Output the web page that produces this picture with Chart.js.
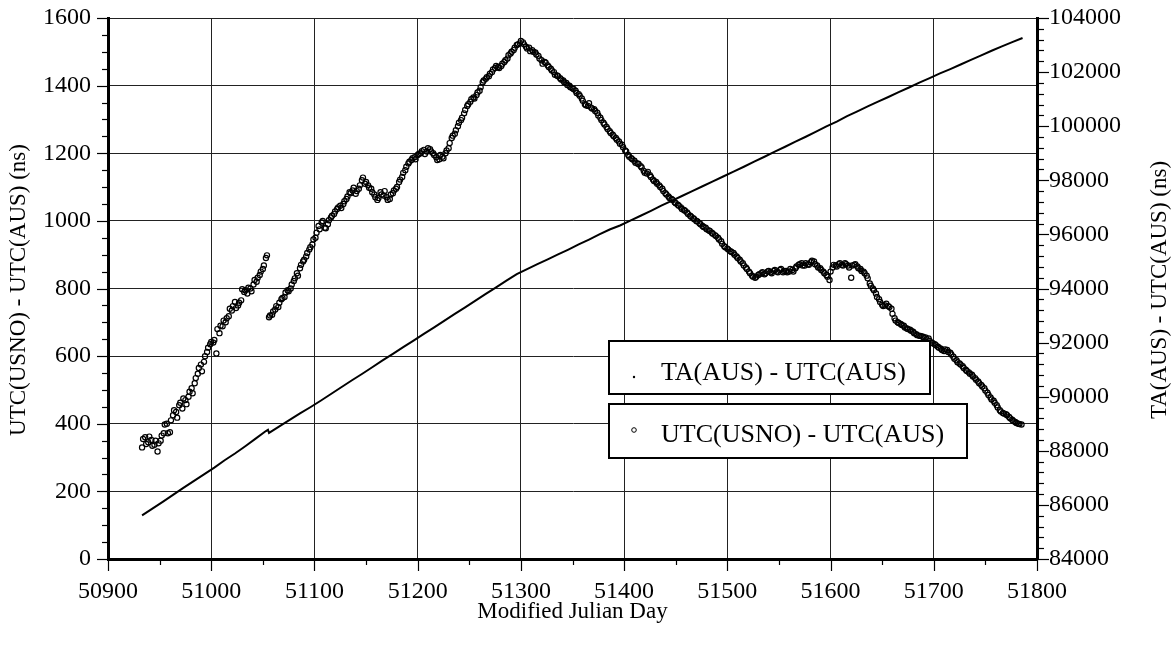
<!DOCTYPE html>
<html>
<head>
<meta charset="utf-8">
<script src="https://cdn.jsdelivr.net/npm/chart.js@4/dist/chart.umd.min.js"></script>
<style>
  html, body { margin: 0; padding: 0; background: #fff; }
  #wrap { width: 1175px; height: 646px; }
</style>
</head>
<body>
<div id="wrap"><canvas id="c" width="1175" height="646"></canvas></div>
<script>
// ---- Axis ticks ----
const xTickValues = [50900, 51000, 51100, 51200, 51300, 51400, 51500, 51600, 51700, 51800];
const leftTickValues = [0, 200, 400, 600, 800, 1000, 1200, 1400, 1600];
const rightTickValues = [84000, 86000, 88000, 90000, 92000, 94000, 96000, 98000, 100000, 102000, 104000];
const xMinorStep = 50, leftMinorStep = 50, rightMinorStep = 400;

// ---- TA(AUS) - UTC(AUS), ns (right axis) ----
const taDays = [
  50933, 50943, 50953, 50963, 50973, 50983, 50993, 51003, 51013, 51023,
  51033, 51043, 51053, 51055, 51056, 51066, 51076, 51086, 51096, 51106,
  51116, 51126, 51136, 51146, 51156, 51166, 51176, 51186, 51196, 51206,
  51216, 51226, 51236, 51246, 51256, 51266, 51276, 51286, 51296, 51306,
  51316, 51326, 51336, 51346, 51356, 51366, 51376, 51386, 51396, 51406,
  51416, 51426, 51436, 51446, 51456, 51466, 51476, 51486, 51496, 51506,
  51516, 51526, 51536, 51546, 51556, 51566, 51576, 51586, 51596, 51606,
  51616, 51626, 51636, 51646, 51656, 51666, 51676, 51686, 51696, 51706,
  51716, 51726, 51736, 51746, 51756, 51766, 51776, 51786
];
const taValues = [
  85610, 85860, 86110, 86370, 86630, 86880, 87130, 87380, 87650, 87900,
  88170, 88450, 88730, 88780, 88660, 88900, 89140, 89380, 89610, 89850,
  90100, 90350, 90600, 90840, 91090, 91340, 91580, 91830, 92070, 92320,
  92560, 92810, 93060, 93300, 93550, 93800, 94040, 94290, 94530, 94720,
  94900, 95080, 95260, 95440, 95630, 95810, 96000, 96180, 96330, 96510,
  96690, 96870, 97060, 97240, 97420, 97600, 97780, 97960, 98140, 98320,
  98500, 98690, 98870, 99060, 99240, 99430, 99610, 99800, 99990, 100170,
  100370, 100550, 100730, 100910, 101080, 101260, 101430, 101610, 101780, 101950,
  102110, 102280, 102450, 102620, 102790, 102950, 103110, 103260
];

// ---- UTC(USNO) - UTC(AUS), ns (left axis) ----
// Readings every third day from MJD 50933 ...
const usnoFirstDayA = 50933;
const usnoDayStep = 3;
const usnoValuesA = [
  330, 360, 345, 352, 338, 318, 350, 372, 400, 375,
  425, 435, 455, 445, 470, 480, 505, 520, 548, 575,
  583, 612, 635, 640, 608, 668, 688, 700, 718, 735,
  760, 750, 765, 790, 785, 800, 812, 820, 840, 858,
  890,
  715, 722, 738, 745, 768, 775, 795, 800, 822, 845,
  860, 880, 895, 915, 930, 950, 985, 995, 980, 990,
  1010, 1020, 1035, 1045, 1050, 1065, 1085, 1090, 1080, 1095,
  1120, 1110, 1105, 1095, 1078, 1062, 1085, 1075, 1070, 1065,
  1082, 1095, 1115, 1130, 1150, 1170, 1180, 1188, 1195, 1200,
  1210, 1205, 1212, 1200, 1188, 1182, 1190, 1200, 1215, 1245,
  1258, 1280, 1298, 1318, 1340, 1352, 1365, 1372, 1385, 1410,
  1420, 1428, 1440, 1452, 1455, 1458, 1470, 1480, 1495, 1505,
  1520, 1525, 1528, 1515, 1512, 1505, 1498, 1488, 1475, 1470,
  1460, 1450, 1440, 1430, 1422, 1415, 1408, 1400, 1392, 1385,
  1375, 1362, 1345, 1340, 1335, 1330, 1320, 1305, 1290, 1278,
  1265, 1255, 1245, 1235, 1225, 1208, 1195, 1185, 1178, 1170,
  1162, 1148, 1140, 1135, 1122, 1115, 1105, 1095, 1082, 1072,
  1065, 1055, 1048, 1040, 1032, 1025, 1015, 1008, 1000, 993,
  985, 980, 972, 965, 958, 950, 940, 925, 918, 910,
  905, 895, 885, 875, 862, 850, 838, 832, 840, 845,
  842, 850, 848, 852, 850, 855, 848, 852, 850, 855,
  860, 870, 875, 868, 872, 878, 880, 868, 860, 850,
  840, 825, 862, 868, 872, 870, 875, 868, 832, 870,
  865, 858, 850, 838, 815, 800, 785, 768, 752, 750,
  748, 740, 712, 700, 695, 690, 682, 678, 672, 665,
  660, 658, 655, 652, 640, 635, 628, 622, 615, 618,
  610, 598, 588, 578, 570, 560, 552, 545, 535, 525,
  515, 505, 492, 478, 468, 455, 440, 432, 428, 420,
  412, 405, 400, 398
];
// ... and every third day from MJD 50934
const usnoFirstDayB = 50934;
const usnoValuesB = [
  355, 340, 362, 335, 350, 342, 365, 398, 372, 410,
  440, 418, 462, 475, 458, 495, 490, 535, 565, 555,
  600, 625, 642, 648, 680, 690, 705, 712, 740, 748,
  742, 758, 798, 795, 802, 792, 825, 832, 850, 868,
  898,
  720, 732, 748, 758, 772, 788, 792, 812, 830, 838,
  870, 885, 905, 922, 945, 965, 975, 1000, 978, 1002,
  1015, 1028, 1040, 1038, 1058, 1072, 1082, 1098, 1088, 1105,
  1128, 1115, 1098, 1085, 1070, 1068, 1078, 1088, 1062, 1078,
  1090, 1100, 1122, 1142, 1160, 1175, 1185, 1182, 1198, 1206,
  1198, 1215, 1205, 1195, 1180, 1195, 1185, 1208, 1230, 1252,
  1268, 1290, 1305, 1328, 1345, 1360, 1362, 1380, 1395, 1415,
  1425, 1435, 1448, 1458, 1452, 1465, 1475, 1490, 1500, 1512,
  1522, 1532, 1522, 1510, 1502, 1500, 1492, 1480, 1465, 1468,
  1455, 1445, 1432, 1428, 1418, 1410, 1402, 1395, 1390, 1378,
  1370, 1355, 1342, 1348, 1332, 1325, 1312, 1298, 1285, 1272,
  1260, 1250, 1240, 1228, 1218, 1205, 1190, 1182, 1172, 1168,
  1158, 1142, 1145, 1130, 1118, 1110, 1100, 1088, 1078, 1068,
  1062, 1052, 1045, 1035, 1030, 1020, 1012, 1005, 998, 990,
  982, 975, 970, 962, 955, 945, 932, 922, 915, 908,
  900, 890, 880, 868, 858, 845, 835, 835, 842, 848,
  845, 852, 845, 855, 848, 858, 852, 848, 858, 850,
  865, 872, 868, 875, 870, 882, 872, 862, 855, 845,
  835, 850, 870, 865, 875, 868, 872, 862, 868, 872,
  860, 852, 845, 830, 808, 795, 775, 760, 748, 755,
  745, 725, 705, 698, 692, 685, 680, 675, 668, 662,
  660, 656, 650, 645, 638, 632, 625, 618, 620, 612,
  605, 592, 582, 575, 565, 556, 548, 540, 530, 520,
  510, 498, 485, 472, 462, 448, 436, 430, 425, 416,
  408, 402, 399
];

const legendItems = ['TA(AUS) - UTC(AUS)', 'UTC(USNO) - UTC(AUS)'];
const xTitle = 'Modified Julian Day';
const leftTitle = 'UTC(USNO) - UTC(AUS) (ns)';
const rightTitle = 'TA(AUS) - UTC(AUS) (ns)';

const FONT = '"Liberation Serif", "Times New Roman", Times, serif';

const taPoints = taDays.map((d, i) => ({ x: d, y: taValues[i] }));
const usnoPoints = []
  .concat(usnoValuesA.map((v, i) => ({ x: usnoFirstDayA + i * usnoDayStep, y: v })))
  .concat(usnoValuesB.map((v, i) => ({ x: usnoFirstDayB + i * usnoDayStep, y: v })))
  .sort((p, q) => p.x - q.x);

// Minor/major tick marks, axis titles and the boxed legend
const decorations = {
  id: 'decorations',
  afterDraw(chart) {
    const ctx = chart.ctx;
    const a = chart.chartArea;
    const sx = chart.scales.x, sy = chart.scales.y, sy2 = chart.scales.y2;
    ctx.save();
    ctx.strokeStyle = '#000';
    ctx.lineWidth = 1.2;
    const line = (x1, y1, x2, y2) => { ctx.beginPath(); ctx.moveTo(x1, y1); ctx.lineTo(x2, y2); ctx.stroke(); };

    for (let v = sx.min; v <= sx.max; v += xMinorStep) {
      const px = Math.round(sx.getPixelForValue(v)) + 0.5;
      const major = xTickValues.includes(v);
      line(px, a.bottom, px, a.bottom + (major ? 12 : 6));
    }
    for (let v = sy.min; v <= sy.max; v += leftMinorStep) {
      const py = Math.round(sy.getPixelForValue(v)) + 0.5;
      const major = leftTickValues.includes(v);
      line(a.left - (major ? 11 : 6), py, a.left, py);
    }
    for (let v = sy2.min; v <= sy2.max; v += rightMinorStep) {
      const py = Math.round(sy2.getPixelForValue(v)) + 0.5;
      const major = rightTickValues.includes(v);
      line(a.right, py, a.right + (major ? 12 : 7), py);
    }

    // Axis titles
    ctx.fillStyle = '#000';
    ctx.font = '23px ' + FONT;
    ctx.textAlign = 'center';
    ctx.textBaseline = 'middle';
    ctx.fillText(xTitle, (a.left + a.right) / 2, 612);
    ctx.save();
    ctx.translate(19, 290);
    ctx.rotate(-Math.PI / 2);
    ctx.fillText(leftTitle, 0, 0);
    ctx.restore();
    ctx.save();
    ctx.translate(1160, 290);
    ctx.rotate(-Math.PI / 2);
    ctx.fillText(rightTitle, 0, 0);
    ctx.restore();

    // Legend boxes
    const boxes = [
      { x: 609, y: 341, w: 321, h: 53, baseline: 380, marker: 'dot', my: 377 },
      { x: 609, y: 404, w: 358, h: 54, baseline: 442, marker: 'circle', my: 430 }
    ];
    boxes.forEach((b, i) => {
      ctx.fillStyle = '#fff';
      ctx.fillRect(b.x, b.y, b.w, b.h);
      ctx.lineWidth = 2;
      ctx.strokeStyle = '#000';
      ctx.strokeRect(b.x, b.y, b.w, b.h);
      ctx.fillStyle = '#000';
      if (b.marker === 'dot') {
        ctx.beginPath(); ctx.arc(634, b.my, 1.2, 0, Math.PI * 2); ctx.fill();
      } else {
        ctx.lineWidth = 1;
        ctx.beginPath(); ctx.arc(634, b.my, 2.3, 0, Math.PI * 2); ctx.stroke();
      }
      ctx.font = '26px ' + FONT;
      ctx.textAlign = 'left';
      ctx.textBaseline = 'alphabetic';
      ctx.fillText(legendItems[i], 661, b.baseline);
    });
    ctx.restore();
  }
};

const tickFont = { family: FONT, size: 24 };
const plain = v => String(v);
const fixVertical = w => s => { s.width = w; s.paddingTop = 0; s.paddingBottom = 0; };

new Chart(document.getElementById('c'), {
  type: 'scatter',
  data: {
    datasets: [
      {
        label: legendItems[0],
        data: taPoints,
        yAxisID: 'y2',
        showLine: true,
        borderColor: '#000',
        borderWidth: 2,
        pointRadius: 0,
        fill: false,
        order: 2
      },
      {
        label: legendItems[1],
        data: usnoPoints,
        yAxisID: 'y',
        showLine: false,
        pointStyle: 'circle',
        pointRadius: 2.6,
        borderWidth: 1.2,
        borderColor: '#000',
        backgroundColor: 'rgba(0,0,0,0)',
        order: 1
      }
    ]
  },
  options: {
    responsive: false,
    animation: false,
    devicePixelRatio: 1,
    layout: { padding: { top: 18, left: 0, right: 0, bottom: 0 } },
    plugins: { legend: { display: false }, tooltip: { enabled: false } },
    scales: {
      x: {
        type: 'linear',
        position: 'bottom',
        min: 50900, max: 51800,
        afterBuildTicks: s => { s.ticks = xTickValues.map(v => ({ value: v })); },
        afterFit: s => { s.height = 87; s.paddingLeft = 0; s.paddingRight = 0; },
        ticks: { font: tickFont, color: '#000', padding: 18, maxRotation: 0, autoSkip: false, callback: plain },
        grid: { color: '#222', lineWidth: 1, drawTicks: false },
        border: { display: true, color: '#000', width: 3 }
      },
      y: {
        type: 'linear',
        position: 'left',
        min: 0, max: 1600,
        afterBuildTicks: s => { s.ticks = leftTickValues.map(v => ({ value: v })); },
        afterFit: fixVertical(108),
        ticks: { font: tickFont, color: '#000', padding: 17, callback: plain },
        grid: { color: '#222', lineWidth: 1, drawTicks: false },
        border: { display: true, color: '#000', width: 3 }
      },
      y2: {
        type: 'linear',
        position: 'right',
        min: 84000, max: 104000,
        afterBuildTicks: s => { s.ticks = rightTickValues.map(v => ({ value: v })); },
        afterFit: fixVertical(138),
        ticks: { font: tickFont, color: '#000', padding: 12, callback: plain },
        grid: { drawOnChartArea: false, drawTicks: false },
        border: { display: true, color: '#000', width: 3 }
      }
    }
  },
  plugins: [decorations]
});
</script>
</body>
</html>
